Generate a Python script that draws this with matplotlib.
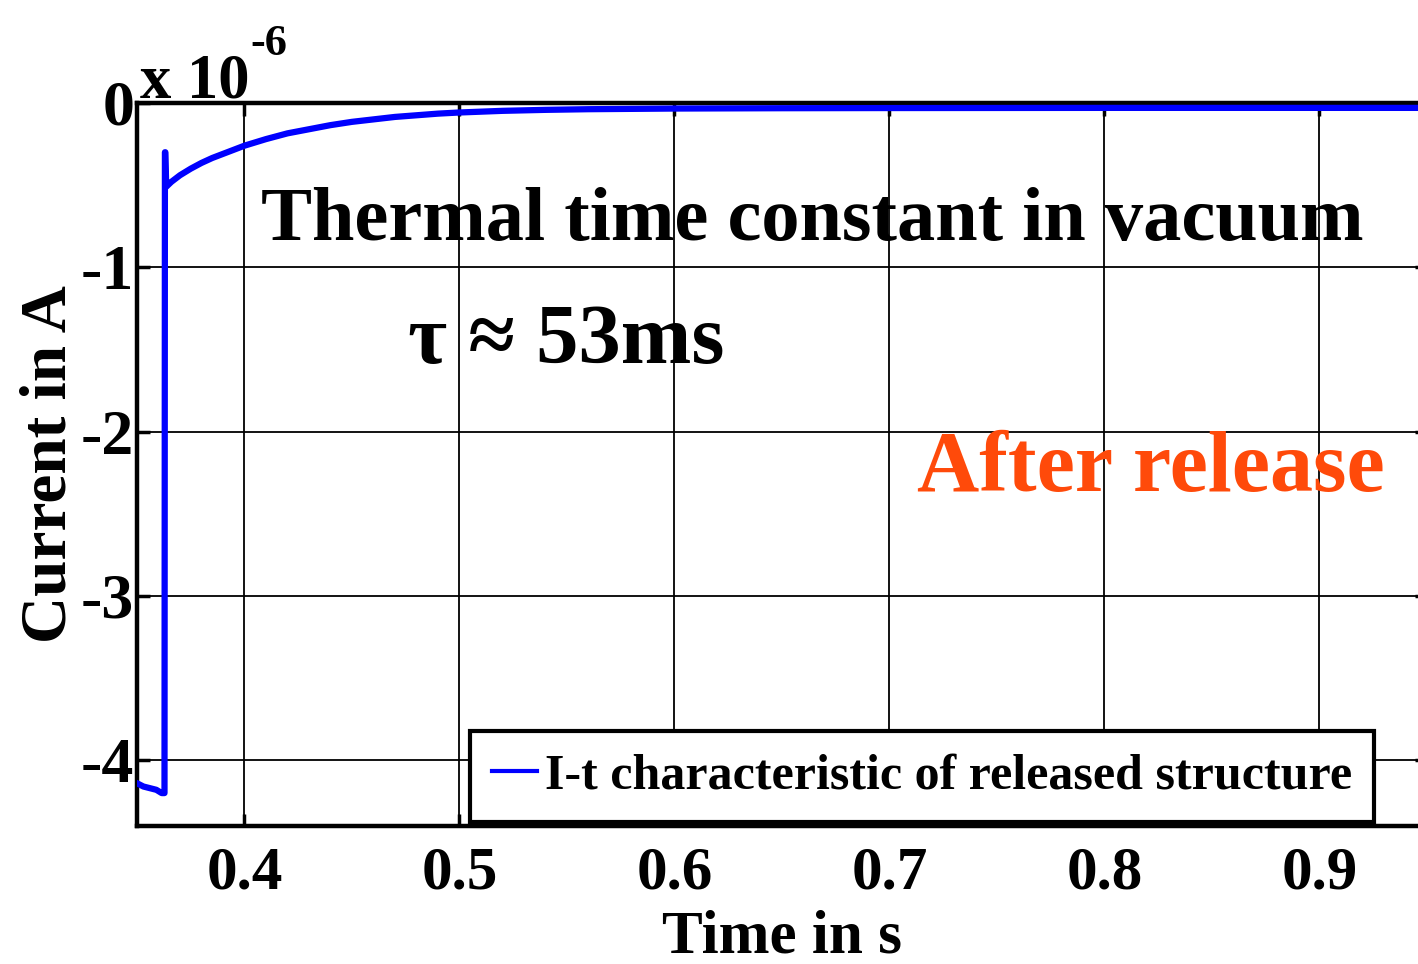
import numpy as np
import matplotlib
matplotlib.use("Agg")
import matplotlib.pyplot as plt

# I-t trace of the released structure, current in units of 1e-6 A
time_s = [0.350, 0.353, 0.356, 0.359, 0.3615, 0.3625, 0.3628, 0.3630, 0.3632,
          0.3636, 0.366, 0.370, 0.375, 0.380, 0.385, 0.390, 0.395, 0.400,
          0.410, 0.420, 0.430, 0.440, 0.450, 0.460, 0.470, 0.480, 0.490,
          0.500, 0.520, 0.540, 0.560, 0.600, 0.650, 0.700, 0.800, 0.950]
current_ua = [-4.14, -4.16, -4.17, -4.18, -4.20, -4.20, -4.20, -0.30, -0.30,
              -0.51, -0.48, -0.44, -0.40, -0.365, -0.335, -0.31, -0.285, -0.26,
              -0.22, -0.185, -0.16, -0.135, -0.115, -0.10, -0.085, -0.075, -0.065,
              -0.058, -0.048, -0.042, -0.038, -0.034, -0.032, -0.031, -0.030, -0.030]

xticks = [0.4, 0.5, 0.6, 0.7, 0.8, 0.9]
xticklabels = ["0.4", "0.5", "0.6", "0.7", "0.8", "0.9"]
yticks = [0, -1, -2, -3, -4]
yticklabels = ["0", "-1", "-2", "-3", "-4"]

plt.rcParams['font.family'] = ['Liberation Serif', 'DejaVu Serif']
plt.rcParams['font.weight'] = 'bold'
plt.rcParams['axes.unicode_minus'] = False

fig = plt.figure(figsize=(14.18, 9.64), dpi=100)
# axes runs a little past the right edge of the canvas
ax = fig.add_axes([0.0966, 0.1432, 0.9097, 0.75])

ax.plot(time_s, current_ua, color="#0000ff", lw=4.5,
        label="I-t characteristic of released structure", zorder=3)

ax.set_xlim(0.35, 0.95)
ax.set_ylim(-4.4, 0)
ax.set_xticks(xticks)
ax.set_xticklabels(xticklabels, fontsize=44, fontweight='bold')
ax.set_yticks(yticks)
ax.set_yticklabels(yticklabels, fontsize=46, fontweight='bold')

ax.grid(True, color="black", lw=1.3)
ax.tick_params(direction="in", length=9, width=2.5, top=True, right=True,
               pad=2)
ax.tick_params(axis="x", pad=14)
for s in ax.spines.values():
    s.set_linewidth(3.2)

ax.set_xlabel("Time in s", fontsize=44, fontweight='bold', labelpad=6)
ax.set_ylabel("Current in A", fontsize=47, fontweight='bold', labelpad=1)

# exponent marker above the y axis
ax.text(0.002, 1.008, "x 10", transform=ax.transAxes, fontsize=45,
        fontweight='bold', ha="left", va="baseline")
ax.text(0.088, 1.066, "-6", transform=ax.transAxes, fontsize=32,
        fontweight='bold', ha="left", va="baseline")

ax.text(0.4075, -0.835, "Thermal time constant in vacuum", fontsize=55,
        fontweight='bold', ha="left", va="baseline")
ax.text(0.476, -1.58, "τ ≈ 53ms", fontsize=61, fontweight='bold',
        ha="left", va="baseline")
ax.text(0.713, -2.36, "After release", fontsize=62, fontweight='bold',
        color="#ff4a0a", ha="left", va="baseline")

leg = ax.legend(loc="lower left", bbox_to_anchor=(0.258, 0.006),
                fontsize=36, frameon=True, fancybox=False, framealpha=1,
                edgecolor="black", handlelength=0.9, handletextpad=0.15,
                borderpad=0.45, borderaxespad=0)
leg.get_frame().set_linewidth(3)
for h in leg.get_lines():
    h.set_linewidth(3)

fig.savefig("out.png", dpi=100)
